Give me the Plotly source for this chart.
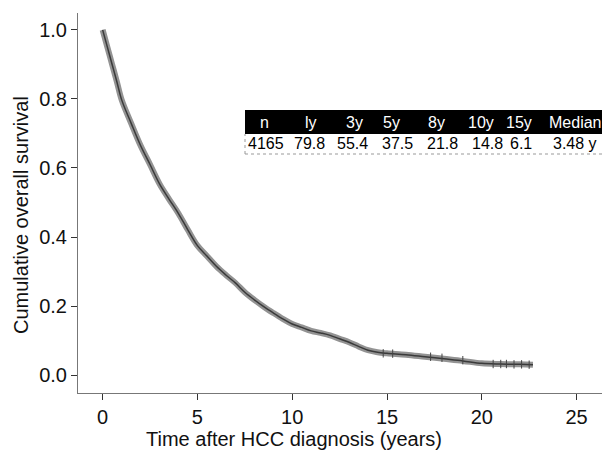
import plotly.graph_objects as go

# Kaplan-Meier curve
time_years = [0, 0.25, 0.5, 0.75, 1, 1.5, 2, 2.5, 3, 3.5, 4, 4.5, 5, 5.5, 6, 6.5, 7, 7.5, 8, 8.5,
              9, 9.5, 10, 10.5, 11, 11.5, 12, 12.5, 13, 13.5, 14, 14.5, 15, 16, 17, 18, 19, 20, 21, 22, 22.7]
survival = [1.0, 0.95, 0.90, 0.85, 0.798, 0.73, 0.665, 0.61, 0.554, 0.51, 0.468, 0.42, 0.375, 0.345,
            0.315, 0.29, 0.267, 0.24, 0.218, 0.198, 0.18, 0.163, 0.148, 0.138, 0.128, 0.122, 0.115,
            0.105, 0.095, 0.083, 0.072, 0.066, 0.063, 0.059, 0.053, 0.047, 0.041, 0.034, 0.032, 0.031, 0.030]

censor_times = [14.8, 15.3, 17.3, 17.9, 19.0, 20.6, 21.0, 21.3, 21.7, 22.1, 22.5]
censor_surv = [0.063, 0.062, 0.053, 0.050, 0.043, 0.032, 0.032, 0.032, 0.031, 0.031, 0.030]

# Table
table_header = ["n", "ly", "3y", "5y", "8y", "10y", "15y", "Median"]
table_values = ["4165", "79.8", "55.4", "37.5", "21.8", "14.8", "6.1", "3.48 y"]

x_title = "Time after HCC diagnosis (years)"
y_title = "Cumulative overall survival"

# page has an 8px body margin, so the figure is drawn 8px smaller and offset
OFF = 8
W, H = 610 - OFF, 450 - OFF
L, R, T, B = 78 - OFF, 5, 13 - OFF, 57
pw, ph = W - L - R, H - T - B

def px(x):
    return (x - OFF - L) / pw

def py(y):
    return (H - B - (y - OFF)) / ph

FONT = "Liberation Sans, Arial, Helvetica"

fig = go.Figure()
fig.add_trace(go.Scatter(x=time_years, y=survival, mode="lines", line_shape="spline",
                         line=dict(color="#939393", width=6), hoverinfo="skip", showlegend=False))
fig.add_trace(go.Scatter(x=time_years, y=survival, mode="lines", line_shape="spline",
                         line=dict(color="#3a3a3a", width=1.5), showlegend=False))
fig.add_trace(go.Scatter(x=censor_times, y=censor_surv, mode="markers",
                         marker=dict(symbol="line-ns", size=6, line=dict(color="#444", width=1)),
                         showlegend=False))

# table shapes
x_left, x_right = 245, 607
y_top, y_mid, y_bot = 110, 134, 154
fig.add_shape(type="rect", xref="paper", yref="paper", x0=px(x_left), x1=px(x_right),
              y0=py(y_mid), y1=py(y_top), fillcolor="black", line=dict(width=0), layer="above")
fig.add_shape(type="rect", xref="paper", yref="paper", x0=px(x_left), x1=px(x_right),
              y0=py(y_bot), y1=py(y_mid), fillcolor="white", line=dict(width=0), layer="above")
fig.add_shape(type="line", xref="paper", yref="paper", x0=px(x_left), x1=px(x_left),
              y0=py(y_bot), y1=py(y_mid), line=dict(width=1, color="#999", dash="dot"), layer="above")
fig.add_shape(type="line", xref="paper", yref="paper", x0=px(x_left), x1=px(x_right),
              y0=py(y_bot), y1=py(y_bot), line=dict(width=1, color="#999", dash="dot"), layer="above")

head_x = [264, 311, 354, 391, 436, 481, 519, 575]
val_x = [266, 309, 352, 397, 442, 487, 521, 575]
for hx, vx, h, v in zip(head_x, val_x, table_header, table_values):
    fig.add_annotation(x=px(hx), y=py((y_top + y_mid) / 2), xref="paper", yref="paper", text=h,
                       showarrow=False, font=dict(color="white", size=16, family=FONT),
                       xanchor="center", yanchor="middle")
    fig.add_annotation(x=px(vx), y=py((y_mid + y_bot) / 2), xref="paper", yref="paper", text=v,
                       showarrow=False, font=dict(color="black", size=16, family=FONT),
                       xanchor="center", yanchor="middle")

# axis titles
fig.add_annotation(x=px(294), y=py(439), xref="paper", yref="paper", text=x_title, showarrow=False,
                   font=dict(size=20, family=FONT, color="#111"), xanchor="center", yanchor="middle")
fig.add_annotation(x=px(21), y=py(215), xref="paper", yref="paper", text=y_title, showarrow=False,
                   textangle=-90, font=dict(size=20, family=FONT, color="#111"),
                   xanchor="center", yanchor="middle")

fig.update_layout(
    width=W, height=H, margin=dict(l=L, r=R, t=T, b=B),
    plot_bgcolor="white", paper_bgcolor="white",
    font=dict(family=FONT, size=19, color="#111"),
    xaxis=dict(range=[-1.3, 26.5], tickvals=[0, 5, 10, 15, 20, 25], showgrid=False, zeroline=False,
               showline=True, linecolor="#777", linewidth=1, ticks="outside", ticklen=6, tickcolor="#333",
               automargin=False, tickfont=dict(size=20)),
    yaxis=dict(range=[-0.052, 1.049], tickvals=[0, 0.2, 0.4, 0.6, 0.8, 1.0], tickformat=".1f",
               showgrid=False, zeroline=False, showline=True, linecolor="#777", linewidth=1,
               ticks="outside", ticklen=6, tickcolor="#333", automargin=False, tickfont=dict(size=20)),
)

fig.write_html("out.html")
